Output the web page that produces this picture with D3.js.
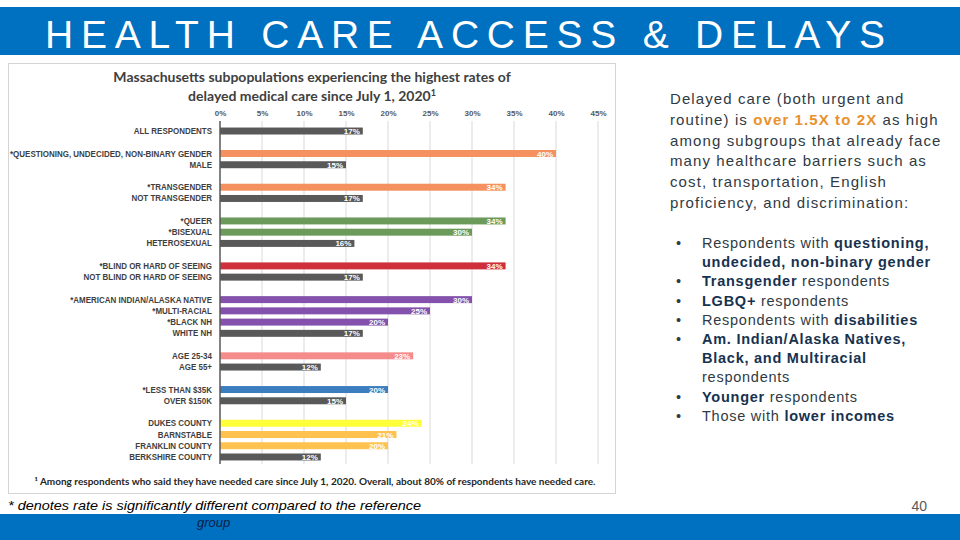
<!DOCTYPE html>
<html lang="en">
<head>
<meta charset="UTF-8">
<title>Health Care Access & Delays</title>
<script src="https://d3js.org/d3.v7.min.js"></script>
<style>
  body { margin: 0; background: #fff; }
  svg { display: block; }
</style>
</head>
<body>
<div id="chart"></div>
<script>
// ---- data ----
var categories = ["ALL RESPONDENTS", "", "*QUESTIONING, UNDECIDED, NON-BINARY GENDER", "MALE", "",
  "*TRANSGENDER", "NOT TRANSGENDER", "", "*QUEER", "*BISEXUAL", "HETEROSEXUAL", "",
  "*BLIND OR HARD OF SEEING", "NOT BLIND OR HARD OF SEEING", "",
  "*AMERICAN INDIAN/ALASKA NATIVE", "*MULTI-RACIAL", "*BLACK NH", "WHITE NH", "",
  "AGE 25-34", "AGE 55+", "", "*LESS THAN $35K", "OVER $150K", "",
  "DUKES COUNTY", "BARNSTABLE", "FRANKLIN COUNTY", "BERKSHIRE COUNTY"]
var values = [17, null, 40, 15, null, 34, 17, null, 34, 30, 16, null, 34, 17, null,
  30, 25, 20, 17, null, 23, 12, null, 20, 15, null, 24, 21, 20, 12]
var groups = ["ref", null, "gender", "ref", null, "gender", "ref", null, "sexuality", "sexuality", "ref", null,
  "vision", "ref", null, "race", "race", "race", "ref", null, "age", "ref", null, "income", "ref", null,
  "dukes", "county", "county", "ref"]
var tickValues = [0, 5, 10, 15, 20, 25, 30, 35, 40, 45]

var pageTitle = "HEALTH CARE ACCESS & DELAYS"
var chartTitle = ["Massachusetts subpopulations experiencing the highest rates of",
  "delayed medical care since July 1, 2020"]
var footnote = "\u00b9 Among respondents who said they have needed care since July 1, 2020. Overall, about 80% of respondents have needed care."

// right-hand text, [text, bold?] segments per line
var introLines = [
  [["Delayed care (both urgent and", 0]],
  [["routine) is ", 0], ["over 1.5X to 2X", 1], [" as high", 0]],
  [["among subgroups that already face", 0]],
  [["many healthcare barriers such as", 0]],
  [["cost, transportation, English", 0]],
  [["proficiency, and discrimination:", 0]]
]
var bulletLines = [
  [true, [["Respondents with ", 0], ["questioning,", 1]]],
  [false, [["undecided, non-binary gender", 1]]],
  [true, [["Transgender", 1], [" respondents", 0]]],
  [true, [["LGBQ+", 1], [" respondents", 0]]],
  [true, [["Respondents with ", 0], ["disabilities", 1]]],
  [true, [["Am. Indian/Alaska Natives,", 1]]],
  [false, [["Black, and Multiracial", 1]]],
  [false, [["respondents", 0]]],
  [true, [["Younger", 1], [" respondents", 0]]],
  [true, [["Those with ", 0], ["lower incomes", 1]]]
]

var color = d3.scaleOrdinal()
  .domain(["ref", "gender", "sexuality", "vision", "race", "age", "income", "dukes", "county"])
  .range(["#595959", "#F4915E", "#6C9A5A", "#CF2F3B", "#8451AC", "#F58C8C", "#3B7DBE", "#FFFF3A", "#FFC24E"])

var width = 960, height = 540
var blue = "#0070C0"

var svg = d3.select("#chart").append("svg")
  .attr("width", width)
  .attr("height", height)

// banner
svg.append("rect").attr("x", 0).attr("y", 7).attr("width", width).attr("height", 48).attr("fill", blue)
svg.append("text")
  .attr("x", 45).attr("y", 48)
  .attr("textLength", 840).attr("lengthAdjust", "spacing")
  .style("font-family", "'Liberation Sans', sans-serif")
  .style("font-size", "39px")
  .attr("fill", "#fff")
  .text(pageTitle)

// bottom band
svg.append("rect").attr("x", 0).attr("y", 514).attr("width", width).attr("height", 26).attr("fill", blue)

// chart frame
svg.append("rect").attr("x", 8.5).attr("y", 63.5).attr("width", 607).attr("height", 430)
  .attr("fill", "#fff").attr("stroke", "#d4d4d4")

var x = d3.scaleLinear().domain([0, 45]).range([220, 598])
var y = d3.scaleBand()
  .domain(d3.range(categories.length))
  .range([125.4, 462.6])
  .paddingInner(0.38)
  .paddingOuter(0.19)

// chart title
var titleText = svg.append("g").selectAll("text")
  .data(chartTitle)
  .enter().append("text")
  .attr("x", 312)
  .attr("y", function(d, i) { return 82 + i * 19 })
  .attr("text-anchor", "middle")
  .style("font-family", "Lato, sans-serif")
  .style("font-weight", "bold")
  .style("font-size", "14px")
  .attr("fill", "#404040")
titleText.append("tspan").text(function(d) { return d })
titleText.filter(function(d, i) { return i === 1 })
  .append("tspan")
  .attr("dy", -5)
  .style("font-size", "9px")
  .text("1")

// gridlines
svg.append("g").selectAll("line")
  .data(tickValues.slice(1))
  .enter().append("line")
  .attr("x1", function(d) { return x(d) }).attr("x2", function(d) { return x(d) })
  .attr("y1", 121).attr("y2", 464)
  .attr("stroke", "#d9d9d9").attr("stroke-width", 1)

// top axis labels
var xAxis = svg.append("g")
  .attr("transform", "translate(0,116)")
  .call(d3.axisTop(x).tickValues(tickValues).tickSize(0).tickPadding(0)
    .tickFormat(function(d) { return d + "%" }))
xAxis.select(".domain").remove()
xAxis.selectAll("text")
  .style("font-family", "'Liberation Sans', sans-serif")
  .style("font-weight", "bold")
  .style("font-size", "8px")
  .attr("fill", "#595959")

var rows = categories.map(function(c, i) {
  return { i: i, label: c, value: values[i], group: groups[i] }
})
var filled = rows.filter(function(d) { return d.value !== null })

// bars
svg.append("g").selectAll("rect")
  .data(filled)
  .enter().append("rect")
  .attr("x", x(0))
  .attr("y", function(d) { return y(d.i) })
  .attr("width", function(d) { return x(d.value) - x(0) })
  .attr("height", y.bandwidth())
  .attr("fill", function(d) { return color(d.group) })

// value labels
svg.append("g").selectAll("text")
  .data(filled)
  .enter().append("text")
  .attr("x", function(d) { return x(d.value) - 3 })
  .attr("y", function(d) { return y(d.i) + y.bandwidth() / 2 + 3 })
  .attr("text-anchor", "end")
  .style("font-family", "'Liberation Sans', sans-serif")
  .style("font-weight", "bold")
  .style("font-size", "8px")
  .attr("fill", "#fff")
  .text(function(d) { return d.value + "%" })

// axis line
svg.append("line")
  .attr("x1", x(0)).attr("x2", x(0))
  .attr("y1", 121).attr("y2", 464)
  .attr("stroke", "#595959").attr("stroke-width", 1.5)

// category labels, squeezed to look like a condensed face
var catLabels = svg.append("g").selectAll("text")
  .data(filled)
  .enter().append("text")
  .attr("x", 212)
  .attr("y", function(d) { return y(d.i) + y.bandwidth() / 2 + 3 })
  .attr("text-anchor", "end")
  .style("font-family", "'Liberation Sans', sans-serif")
  .style("font-weight", "bold")
  .style("font-size", "8.5px")
  .attr("fill", "#3f3f3f")
  .text(function(d) { return d.label })
var longest = d3.max(catLabels.nodes(), function(n) { return n.getComputedTextLength() })
var squeeze = 202 / longest
catLabels.each(function() {
  d3.select(this)
    .attr("textLength", this.getComputedTextLength() * squeeze)
    .attr("lengthAdjust", "spacingAndGlyphs")
})

// footnote
svg.append("text")
  .attr("x", 315).attr("y", 485)
  .attr("text-anchor", "middle")
  .style("font-family", "Lato, sans-serif")
  .style("font-weight", "bold")
  .style("font-size", "10px")
  .attr("fill", "#262626")
  .text(footnote)

// significance note under the chart
var noteStyle = function(s) {
  s.style("font-family", "'Liberation Sans', sans-serif")
    .style("font-style", "italic")
    .style("font-size", "13px")
}
svg.append("text").attr("x", 8).attr("y", 510).call(noteStyle)
  .attr("fill", "#000")
  .attr("textLength", 413).attr("lengthAdjust", "spacingAndGlyphs")
  .text("* denotes rate is significantly different compared to the reference")
svg.append("text").attr("x", 197).attr("y", 527).call(noteStyle)
  .attr("fill", "#0b1d4a")
  .text("group")

// page number
svg.append("text")
  .attr("x", 927).attr("y", 511)
  .attr("text-anchor", "end")
  .style("font-family", "'Liberation Sans', sans-serif")
  .style("font-size", "14px")
  .attr("fill", "#595959")
  .text("40")

// right-hand text
function richLine(sel, segs, boldFill, normFill) {
  segs.forEach(function(s) {
    sel.append("tspan")
      .style("font-weight", s[1] ? "bold" : "normal")
      .attr("fill", s[1] ? boldFill : normFill)
      .text(s[0])
  })
}
var intro = svg.append("g")
  .style("font-family", "'Liberation Sans', Arial, sans-serif")
  .style("font-size", "15px")
  .style("letter-spacing", "1.1px")
introLines.forEach(function(segs, i) {
  var t = intro.append("text").attr("x", 670).attr("y", 104 + i * 20.8)
  richLine(t, segs, "#E8922B", "#2f3a44")
})

var bullets = svg.append("g")
  .style("font-family", "'Liberation Sans', Arial, sans-serif")
  .style("font-size", "14.5px")
  .style("letter-spacing", "0.75px")
bulletLines.forEach(function(b, i) {
  var yy = 248 + i * 19.2
  if (b[0]) {
    bullets.append("text").attr("x", 676).attr("y", yy).attr("fill", "#2f3a44").text("\u2022")
  }
  var t = bullets.append("text").attr("x", 702).attr("y", yy)
  richLine(t, b[1], "#17324f", "#2f3a44")
})
</script>
</body>
</html>
